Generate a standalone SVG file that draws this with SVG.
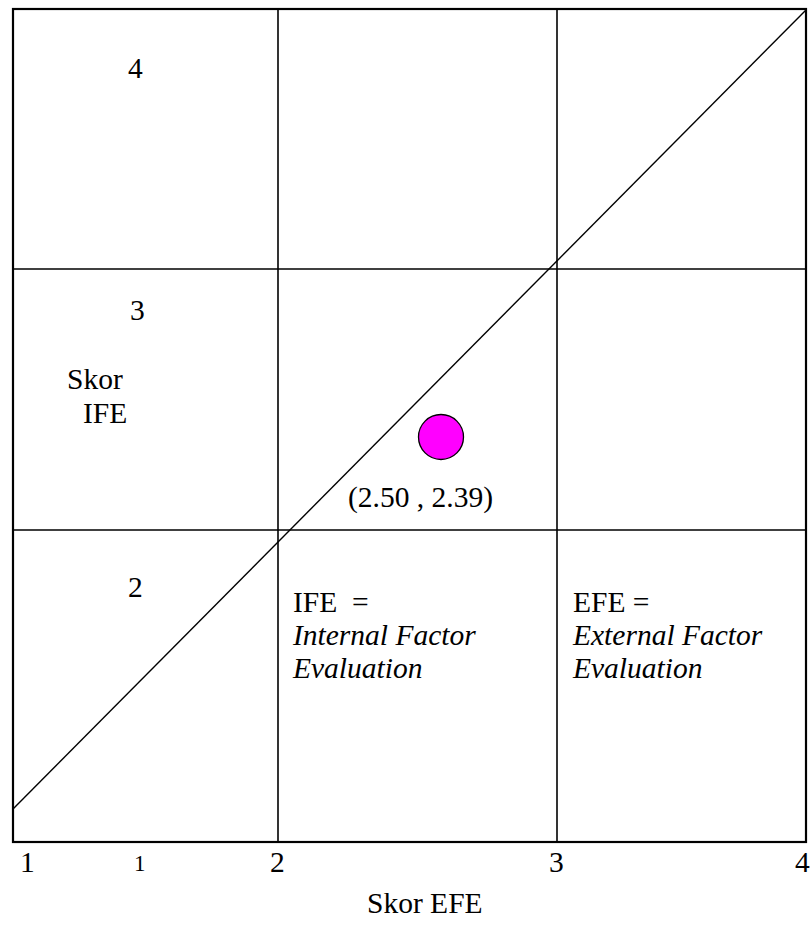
<svg xmlns="http://www.w3.org/2000/svg" width="811" height="927" viewBox="0 0 811 927">
<style>
.t{font-family:"Liberation Serif","Times New Roman",serif;font-size:29.5px;fill:#000}
.i{font-style:italic}
.g{stroke:#000;fill:none}
</style>
<rect x="0" y="0" width="811" height="927" fill="#fff"/>
<g id="grid">
<rect class="g" x="13" y="9" width="793" height="833" stroke-width="2.2"/>
<line class="g" x1="278" y1="9" x2="278" y2="842" stroke-width="1.6"/>
<line class="g" x1="557" y1="9" x2="557" y2="842" stroke-width="1.6"/>
<line class="g" x1="13" y1="269" x2="806" y2="269" stroke-width="1.6"/>
<line class="g" x1="13" y1="530" x2="806" y2="530" stroke-width="1.6"/>
</g>
<g id="connectors">
<line class="g" x1="13" y1="809" x2="806" y2="10" stroke-width="1.4"/>
</g>
<g id="point">
<circle cx="441" cy="437" r="22.5" fill="#ff00ff" stroke="#000" stroke-width="1.3"/>
<text class="t" x="348" y="507">(2.50 , 2.39)</text>
</g>
<g id="y-axis">
<text class="t" x="128" y="78">4</text>
<text class="t" x="130" y="320">3</text>
<text class="t" x="128" y="597">2</text>
<text class="t" x="67" y="389">Skor</text>
<text class="t" x="83" y="423">IFE</text>
</g>
<g id="legend-ife">
<text class="t" x="293" y="612" xml:space="preserve">IFE  =</text>
<text class="t i" x="293" y="645">Internal Factor</text>
<text class="t i" x="293" y="678">Evaluation</text>
</g>
<g id="legend-efe">
<text class="t" x="573" y="612">EFE =</text>
<text class="t i" x="573" y="645">External Factor</text>
<text class="t i" x="573" y="678">Evaluation</text>
</g>
<g id="x-axis">
<text class="t" x="20" y="872">1</text>
<text class="t" x="134" y="871" style="font-size:23px">1</text>
<text class="t" x="270" y="872">2</text>
<text class="t" x="549" y="872">3</text>
<text class="t" x="795" y="872">4</text>
<text class="t" x="367" y="913">Skor EFE</text>
</g>
</svg>
